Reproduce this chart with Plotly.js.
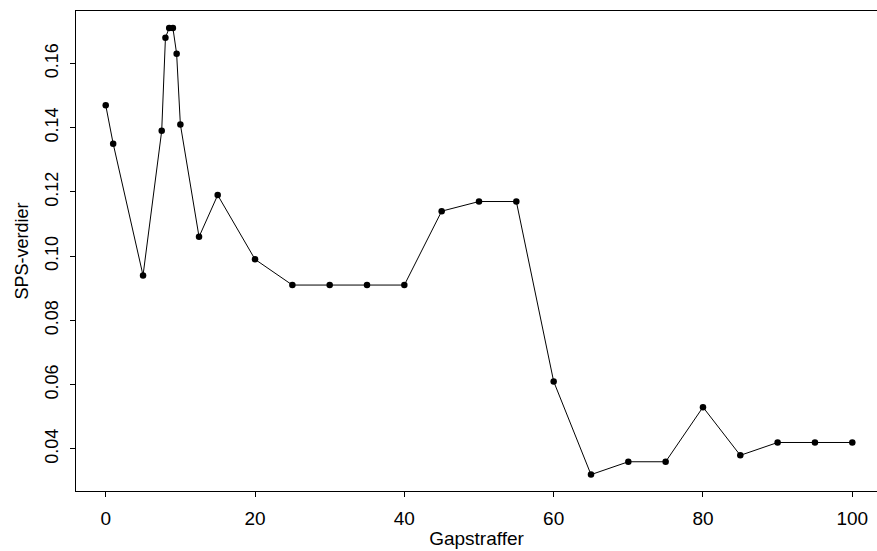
<!DOCTYPE html>
<html>
<head>
<meta charset="utf-8">
<script src="https://cdn.plot.ly/plotly-3.0.1.min.js"></script>
<style>html,body{margin:0;padding:0;background:#fff;}#chart{width:877px;height:551px;}</style>
</head>
<body>
<div id="chart"></div>
<script>
// Data
const gapPenalty = [0, 1, 5, 7.5, 8, 8.5, 9, 9.5, 10, 12.5, 15, 20, 25, 30, 35, 40, 45, 50, 55, 60, 65, 70, 75, 80, 85, 90, 95, 100];
const spsValues = [0.147, 0.135, 0.094, 0.139, 0.168, 0.171, 0.171, 0.163, 0.141, 0.106, 0.119, 0.099, 0.091, 0.091, 0.091, 0.091, 0.114, 0.117, 0.117, 0.061, 0.032, 0.036, 0.036, 0.053, 0.038, 0.042, 0.042, 0.042];
const xTicks = [0, 20, 40, 60, 80, 100];
const yTicks = [0.04, 0.06, 0.08, 0.10, 0.12, 0.14, 0.16];
const xTitle = "Gapstraffer";
const yTitle = "SPS-verdier";

const trace = {
  x: gapPenalty,
  y: spsValues,
  type: "scatter",
  mode: "lines+markers",
  line: {color: "#000", width: 1},
  marker: {color: "#000", size: 6.5, symbol: "circle"},
  hoverinfo: "x+y"
};

const layout = {
  width: 877,
  height: 551,
  margin: {l: 76, r: 0, t: 11, b: 60, pad: 0},
  paper_bgcolor: "#fff",
  plot_bgcolor: "#fff",
  showlegend: false,
  font: {family: "Liberation Sans, Arial, sans-serif", color: "#000", size: 18},
  xaxis: {
    range: [-3.98, 103.31],
    tickmode: "array",
    tickvals: xTicks,
    ticktext: xTicks.map(String),
    ticks: "outside",
    ticklen: 5,
    tickwidth: 1,
    tickcolor: "#000",
    showline: true,
    linecolor: "#000",
    linewidth: 1,
    mirror: true,
    showgrid: false,
    zeroline: false,
    tickfont: {size: 19},
    ticklabelstandoff: 5,
    title: {text: xTitle, font: {size: 19}, standoff: 3}
  },
  yaxis: {
    range: [0.0269, 0.1763],
    tickmode: "array",
    tickvals: yTicks,
    ticktext: yTicks.map(v => v.toFixed(2)),
    tickangle: -90,
    ticks: "outside",
    ticklen: 5,
    tickwidth: 1,
    tickcolor: "#000",
    showline: true,
    linecolor: "#000",
    linewidth: 1,
    mirror: false,
    showgrid: false,
    zeroline: false,
    tickfont: {size: 18},
    ticklabelstandoff: 5,
    title: {text: yTitle, font: {size: 18}, standoff: 8}
  }
};

Plotly.newPlot("chart", [trace], layout, {displayModeBar: false, staticPlot: true});
</script>
</body>
</html>
